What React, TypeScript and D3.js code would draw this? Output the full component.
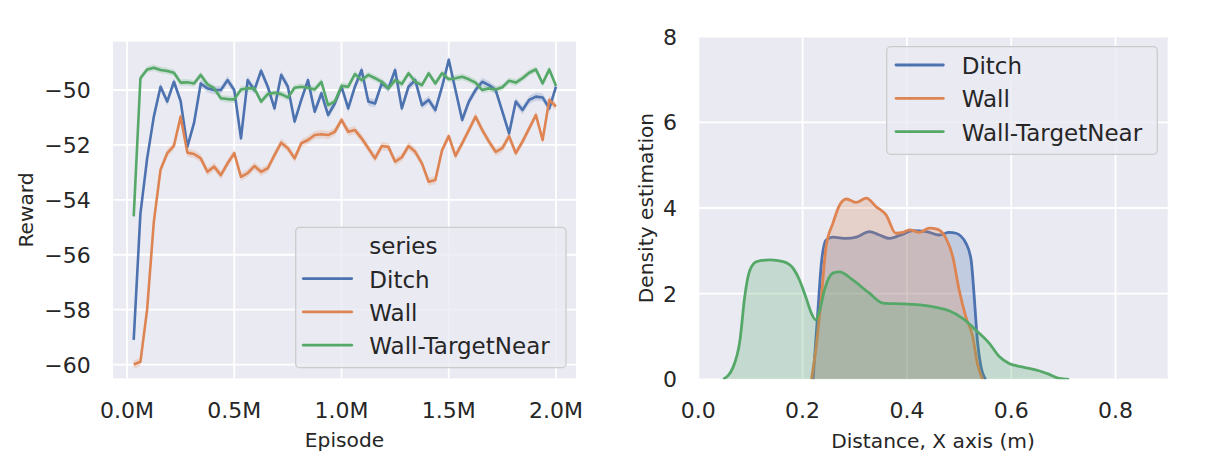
import React from "react";
import * as d3 from "d3";

// ---------- Data ----------
const seriesNames = ["Ditch", "Wall", "Wall-TargetNear"];
const seriesColors = ["#4C72B0", "#DD8452", "#55A868"];

// Episodes (in millions), one sample every 31,250 episodes
const episodeStepM = 0.03125;
const episodeCount = 64;
const episodes = d3.range(1, episodeCount + 1).map((k) => k * episodeStepM);

const ditchReward = [
  -59.1, -54.5, -52.5, -50.97, -49.88, -50.42, -49.7, -50.4, -52.07, -51.2,
  -49.76, -49.94, -50.0, -50.0, -49.64, -50.0, -51.76, -49.64, -50.0, -49.3,
  -49.88, -50.67, -49.45, -49.88, -51.15, -50.36, -49.64, -50.79, -50.12, -50.91,
  -50.49, -49.88, -50.67, -49.88, -49.27, -50.42, -50.49, -49.76, -49.94, -49.27,
  -50.67, -49.88, -49.64, -50.55, -50.36, -50.73, -49.88, -48.9, -50.0, -51.09,
  -50.42, -50.0, -49.7, -49.82, -50.0, -50.79, -51.58, -50.42, -50.73, -50.36,
  -50.24, -50.27, -50.67, -49.88,
];
const wallReward = [
  -60.0, -59.9, -58.0, -54.8, -52.9, -52.3, -52.03, -50.97, -52.28, -52.33,
  -52.49, -52.98, -52.79, -53.1, -52.67, -52.3, -53.16, -53.03, -52.77, -52.98,
  -52.85, -52.37, -51.92, -52.12, -52.49, -51.94, -51.82, -51.64, -51.61, -51.64,
  -51.52, -51.09, -51.52, -51.46, -51.76, -52.12, -52.49, -52.04, -52.07, -52.61,
  -52.45, -52.04, -52.25, -52.67, -53.34, -53.28, -52.19, -51.68, -52.4, -51.94,
  -51.46, -50.97, -51.46, -51.88, -52.25, -52.12, -51.68, -52.3, -51.88, -51.4,
  -50.91, -51.82, -50.36, -50.6,
];
const wallTargetNearReward = [
  -54.6, -49.57, -49.25, -49.19, -49.27, -49.31, -49.37, -49.73, -49.72, -49.76,
  -49.45, -49.79, -49.94, -50.3, -50.33, -50.34, -49.98, -49.94, -49.94, -50.42,
  -50.15, -50.1, -50.15, -50.27, -49.92, -49.88, -49.92, -49.98, -49.7, -50.55,
  -50.42, -49.85, -49.88, -49.42, -49.64, -49.45, -49.57, -49.7, -49.94, -49.64,
  -49.78, -49.39, -49.7, -49.82, -49.39, -49.76, -49.39, -49.61, -49.57, -49.52,
  -49.61, -49.73, -50.0, -49.94, -49.98, -49.9, -49.66, -49.73, -49.57, -49.37,
  -49.25, -49.76, -49.25, -49.85,
];
const rewardSeries = [ditchReward, wallReward, wallTargetNearReward];
const rewardCiHalf = [0.15, 0.15, 0.12];

const rewardXTicks = [0, 0.5, 1.0, 1.5, 2.0];
const rewardXTickLabels = ["0.0M", "0.5M", "1.0M", "1.5M", "2.0M"];
const rewardYTicks = [-60, -58, -56, -54, -52, -50];

// Density estimation curves (distance in m, density)
const ditchDistX = [0.22, 0.229, 0.236, 0.245, 0.258, 0.284, 0.303, 0.328, 0.347, 0.367, 0.392, 0.411, 0.437, 0.462, 0.481, 0.494, 0.513, 0.523, 0.529, 0.535, 0.542, 0.551];
const ditchDensity = [0, 1.54, 2.71, 3.25, 3.32, 3.29, 3.32, 3.45, 3.37, 3.29, 3.39, 3.47, 3.45, 3.37, 3.43, 3.41, 3.18, 2.79, 1.93, 0.92, 0.29, 0];
const wallDistX = [0.217, 0.226, 0.236, 0.245, 0.258, 0.271, 0.284, 0.303, 0.322, 0.341, 0.36, 0.379, 0.392, 0.405, 0.424, 0.443, 0.459, 0.475, 0.488, 0.5, 0.513, 0.526, 0.535, 0.545];
const wallDensity = [0, 0.76, 1.93, 3.1, 3.64, 4.07, 4.21, 4.13, 4.23, 4.03, 3.84, 3.41, 3.43, 3.49, 3.43, 3.53, 3.5, 3.29, 2.86, 2.09, 1.46, 1.0, 0.37, 0];
const wtnDistX = [0.048, 0.067, 0.08, 0.089, 0.099, 0.112, 0.137, 0.163, 0.182, 0.194, 0.207, 0.217, 0.225, 0.233, 0.242, 0.258, 0.271, 0.296, 0.328, 0.354, 0.392, 0.424, 0.456, 0.481, 0.507, 0.532, 0.558, 0.577, 0.596, 0.621, 0.653, 0.672, 0.692, 0.711];
const wtnDensity = [0, 0.29, 0.92, 1.93, 2.55, 2.75, 2.79, 2.75, 2.59, 2.32, 1.89, 1.54, 1.39, 1.62, 2.09, 2.48, 2.51, 2.32, 2.01, 1.78, 1.76, 1.74, 1.68, 1.6, 1.42, 1.15, 0.84, 0.53, 0.37, 0.29, 0.2, 0.12, 0.02, 0];
const densityX = [ditchDistX, wallDistX, wtnDistX];
const densityY = [ditchDensity, wallDensity, wtnDensity];

const distXTicks = [0, 0.2, 0.4, 0.6, 0.8];
const densityYTicks = [0, 2, 4, 6, 8];

// ---------- Style ----------
const FONT = "'DejaVu Sans', 'Liberation Sans', sans-serif";
const TEXT = "#262626";
const BG = "#EAEAF2";
const TICK_FS = 22;
const LABEL_FS = 20.2;
const LEGEND_FS = 23;

export default function App() {
  // Left panel
  const L = { left: 113, right: 576, top: 41.7, bottom: 378.3 };
  const xL = d3.scaleLinear().domain([-0.0653, 2.0932]).range([L.left, L.right]);
  const yL = d3.scaleLinear().domain([-60.5, -48.24]).range([L.bottom, L.top]);

  // Right panel
  const R = { left: 698.3, right: 1167.7, top: 36.7, bottom: 379.3 };
  const xR = d3.scaleLinear().domain([0, 0.9]).range([R.left, R.right]);
  const yR = d3.scaleLinear().domain([0, 8]).range([R.bottom, R.top]);

  const lineL = d3
    .line<[number, number]>()
    .x((d) => xL(d[0]))
    .y((d) => yL(d[1]));
  const bandL = d3
    .area<[number, number, number]>()
    .x((d) => xL(d[0]))
    .y0((d) => yL(d[1] - d[2]))
    .y1((d) => yL(d[1] + d[2]));

  const areaR = d3
    .area<[number, number]>()
    .curve(d3.curveMonotoneX)
    .x((d) => xR(d[0]))
    .y0(yR(0))
    .y1((d) => yR(d[1]));
  const lineR = d3
    .line<[number, number]>()
    .curve(d3.curveMonotoneX)
    .x((d) => xR(d[0]))
    .y((d) => yR(d[1]));

  const minus = (v: number) => (v < 0 ? "\u2212" + Math.abs(v) : String(v));

  const legendRows = (x0: number, handleX0: number, handleX1: number, baseY: number, title?: string) => {
    const rows: React.ReactNode[] = [];
    let b = baseY;
    if (title) {
      rows.push(
        <text key="t" x={x0} y={b} fontSize={LEGEND_FS} fill={TEXT} fontFamily={FONT}>
          {title}
        </text>
      );
      b += 33.3;
    }
    seriesNames.forEach((n, i) => {
      const yy = b + i * 33.3;
      rows.push(
        <g key={n}>
          <line x1={handleX0} x2={handleX1} y1={yy - 9} y2={yy - 9} stroke={seriesColors[i]} strokeWidth={2.8} strokeLinecap="round" />
          <text x={x0} y={yy} fontSize={LEGEND_FS} fill={TEXT} fontFamily={FONT}>
            {n}
          </text>
        </g>
      );
    });
    return rows;
  };

  return (
    <svg
      width={1214}
      height={465}
      style={{ position: "absolute", left: 0, top: 0, background: "#fff" }}
      fontFamily={FONT}
    >
      <rect x={0} y={0} width={1214} height={465} fill="#fff" />

      {/* ---------- Left panel ---------- */}
      <defs>
        <clipPath id="clipL">
          <rect x={L.left} y={L.top} width={L.right - L.left} height={L.bottom - L.top} />
        </clipPath>
        <clipPath id="clipR">
          <rect x={R.left} y={R.top} width={R.right - R.left} height={R.bottom - R.top} />
        </clipPath>
      </defs>
      <rect x={L.left} y={L.top} width={L.right - L.left} height={L.bottom - L.top} fill={BG} />
      {rewardXTicks.map((t) => (
        <line key={"gx" + t} x1={xL(t)} x2={xL(t)} y1={L.top} y2={L.bottom} stroke="#fff" strokeWidth={1.8} />
      ))}
      {rewardYTicks.map((t) => (
        <line key={"gy" + t} x1={L.left} x2={L.right} y1={yL(t)} y2={yL(t)} stroke="#fff" strokeWidth={1.8} />
      ))}
      <g clipPath="url(#clipL)">
        {rewardSeries.map((s, i) => (
          <path
            key={"band" + i}
            d={bandL(s.map((v, k) => [episodes[k], v, rewardCiHalf[i]] as [number, number, number])) || ""}
            fill={seriesColors[i]}
            opacity={0.2}
          />
        ))}
        {rewardSeries.map((s, i) => (
          <path
            key={"line" + i}
            d={lineL(s.map((v, k) => [episodes[k], v] as [number, number])) || ""}
            fill="none"
            stroke={seriesColors[i]}
            strokeWidth={2.6}
            strokeLinejoin="round"
          />
        ))}
      </g>
      {rewardXTicks.map((t, i) => (
        <text key={"xl" + t} x={xL(t)} y={417.7} textAnchor="middle" fontSize={TICK_FS} fill={TEXT}>
          {rewardXTickLabels[i]}
        </text>
      ))}
      {rewardYTicks.map((t) => (
        <text key={"yl" + t} x={90.7} y={yL(t) + 8} textAnchor="end" fontSize={TICK_FS} fill={TEXT}>
          {minus(t)}
        </text>
      ))}
      <text x={(L.left + L.right) / 2} y={446.7} textAnchor="middle" fontSize={LABEL_FS} fill={TEXT}>
        Episode
      </text>
      <text
        transform={`translate(33.3, ${(L.top + L.bottom) / 2}) rotate(-90)`}
        textAnchor="middle"
        fontSize={LABEL_FS}
        fill={TEXT}
      >
        Reward
      </text>
      {/* Left legend */}
      <rect x={295.7} y={227.3} width={566 - 295.7} height={367.7 - 227.3} rx={4} ry={4} fill={BG} fillOpacity={0.8} stroke="#CCCCCC" strokeWidth={1.3} />
      {legendRows(369.3, 303.3, 351.7, 254.3, "series")}

      {/* ---------- Right panel ---------- */}
      <rect x={R.left} y={R.top} width={R.right - R.left} height={R.bottom - R.top} fill={BG} />
      {distXTicks.map((t) => (
        <line key={"rgx" + t} x1={xR(t)} x2={xR(t)} y1={R.top} y2={R.bottom} stroke="#fff" strokeWidth={1.8} />
      ))}
      {densityYTicks.map((t) => (
        <line key={"rgy" + t} x1={R.left} x2={R.right} y1={yR(t)} y2={yR(t)} stroke="#fff" strokeWidth={1.8} />
      ))}
      <g clipPath="url(#clipR)">
        {densityX.map((xs, i) => {
          const pts = xs.map((x, k) => [x, densityY[i][k]] as [number, number]);
          return (
            <g key={"kde" + i}>
              <path d={areaR(pts) || ""} fill={seriesColors[i]} fillOpacity={0.25} />
              <path d={lineR(pts) || ""} fill="none" stroke={seriesColors[i]} strokeWidth={2.8} strokeLinejoin="round" />
            </g>
          );
        })}
      </g>
      {distXTicks.map((t) => (
        <text key={"rxl" + t} x={xR(t)} y={418} textAnchor="middle" fontSize={TICK_FS} fill={TEXT}>
          {t.toFixed(1)}
        </text>
      ))}
      {densityYTicks.map((t) => (
        <text key={"ryl" + t} x={677} y={yR(t) + 8} textAnchor="end" fontSize={TICK_FS} fill={TEXT}>
          {String(t)}
        </text>
      ))}
      <text x={(R.left + R.right) / 2} y={447.7} textAnchor="middle" fontSize={LABEL_FS} fill={TEXT}>
        Distance, X axis (m)
      </text>
      <text
        transform={`translate(653.3, ${(R.top + R.bottom) / 2}) rotate(-90)`}
        textAnchor="middle"
        fontSize={LABEL_FS}
        fill={TEXT}
      >
        Density estimation
      </text>
      {/* Right legend */}
      <rect x={886.7} y={46.7} width={1157.3 - 886.7} height={154.3 - 46.7} rx={4} ry={4} fill={BG} fillOpacity={0.8} stroke="#CCCCCC" strokeWidth={1.3} />
      {legendRows(961.7, 896, 943.3, 74)}
    </svg>
  );
}
